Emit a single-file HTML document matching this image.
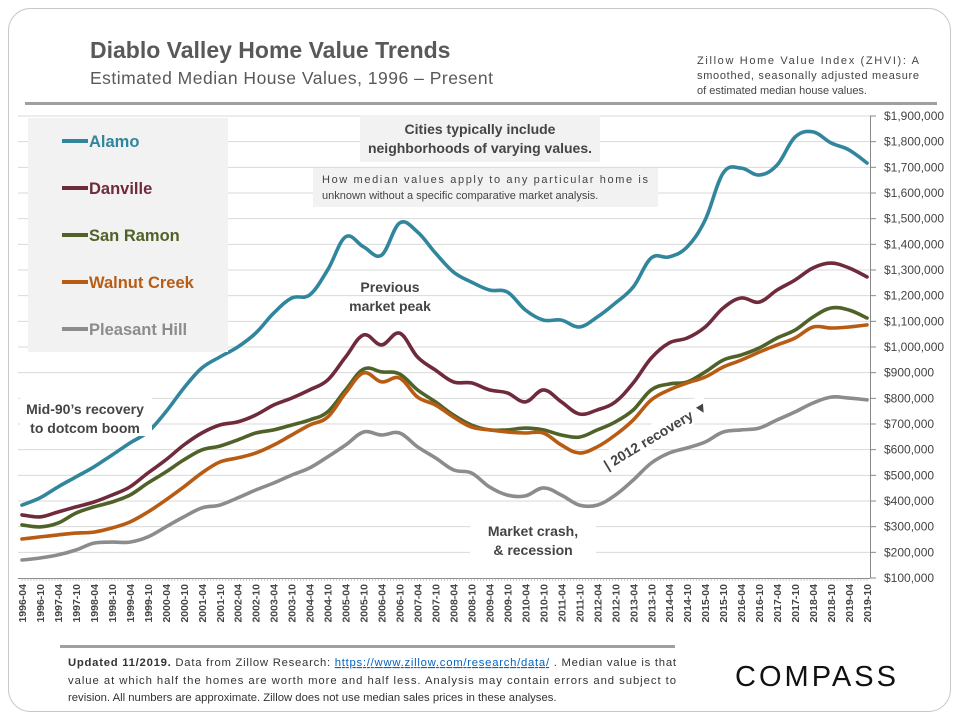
<!DOCTYPE html>
<html><head><meta charset="utf-8"><style>
body{margin:0;width:960px;height:720px;background:#fff;font-family:"Liberation Sans",sans-serif;overflow:hidden}
svg text{font-family:"Liberation Sans",sans-serif}
</style></head><body>
<svg id="c" width="960" height="720">
<rect x="8.5" y="8.5" width="942" height="703" rx="22" fill="#fff" stroke="#c8c8c8"/>
<text x="90" y="58" font-size="23" font-weight="bold" fill="#595959">Diablo Valley Home Value Trends</text>
<text x="90" y="84" font-size="17.5" fill="#595959" letter-spacing="0.5">Estimated Median House Values, 1996 – Present</text>
<g font-size="11" fill="#444">
<text x="697" y="64" textLength="222">Zillow Home Value Index (ZHVI): A</text>
<text x="697" y="79" textLength="222">smoothed, seasonally adjusted measure</text>
<text x="697" y="94">of estimated median house values.</text></g>
<rect x="25" y="102" width="912" height="3" fill="#a0a0a0"/>
<g id="grid"></g>
<g id="series"></g>
<rect x="28" y="118" width="200" height="234" fill="#f2f2f2"/>
<g id="legend"></g>
<rect x="360" y="115" width="240" height="47" fill="#f2f2f2"/>
<g font-size="14" font-weight="bold" fill="#444" text-anchor="middle">
<text x="480" y="134">Cities typically include</text><text x="480" y="153">neighborhoods of varying values.</text></g>
<rect x="313" y="168" width="345" height="39" fill="#f2f2f2"/>
<g font-size="11" fill="#444">
<text x="322" y="183" textLength="326">How median values apply to any particular home is</text>
<text x="322" y="199">unknown without a specific comparative market analysis.</text></g>
<g font-size="14" font-weight="bold" fill="#444" text-anchor="middle">
<text x="390" y="292"><tspan x="390">Previous</tspan><tspan x="390" dy="19">market peak</tspan></text>
<rect x="20" y="396" width="132" height="40" fill="#fff"/>
<text x="85" y="414"><tspan x="85">Mid-90’s recovery</tspan><tspan x="85" dy="19">to dotcom boom</tspan></text>
<rect x="470" y="518" width="126" height="42" fill="#fff"/>
<text x="533" y="536"><tspan x="533">Market crash,</tspan><tspan x="533" dy="19">&amp; recession</tspan></text>
</g>
<g transform="translate(657,437) rotate(-31)">
<rect x="-58" y="-14" width="118" height="22" fill="#fff"/>
<text x="0" y="3" font-size="14" font-weight="bold" fill="#444" text-anchor="middle">| 2012 recovery ▼</text></g>
<g id="yaxis"></g>
<g id="xaxis"></g>
<rect x="60" y="645" width="615" height="3" fill="#a0a0a0"/>
<g font-size="11.3" fill="#333">
<text x="68" y="666" textLength="608"><tspan font-weight="bold">Updated 11/2019.</tspan> Data from Zillow Research: <tspan fill="#0563c1" text-decoration="underline">https://www.zillow.com/research/data/</tspan> . Median value is that</text>
<text x="68" y="684" textLength="608">value at which half the homes are worth more and half less. Analysis may contain errors and subject to</text>
<text x="68" y="701">revision. All numbers are approximate. Zillow does not use median sales prices in these analyses.</text></g>
<text x="817" y="686" font-size="29" fill="#111" text-anchor="middle" letter-spacing="3">COMPASS</text>
</svg>
<script>
const periods=["1996-04","1996-10","1997-04","1997-10","1998-04","1998-10","1999-04","1999-10","2000-04","2000-10","2001-04","2001-10","2002-04","2002-10","2003-04","2003-10","2004-04","2004-10","2005-04","2005-10","2006-04","2006-10","2007-04","2007-10","2008-04","2008-10","2009-04","2009-10","2010-04","2010-10","2011-04","2011-10","2012-04","2012-10","2013-04","2013-10","2014-04","2014-10","2015-04","2015-10","2016-04","2016-10","2017-04","2017-10","2018-04","2018-10","2019-04","2019-10"];
const alamo=[384,412,455,494,533,579,626,669,747,840,918,961,1000,1054,1132,1191,1203,1300,1429,1390,1358,1483,1448,1366,1292,1253,1222,1214,1144,1105,1105,1078,1117,1171,1234,1347,1351,1390,1495,1678,1697,1670,1709,1818,1838,1795,1768,1717];
const danville=[346,338,357,377,396,423,455,509,560,618,665,696,708,735,774,801,833,871,961,1047,1008,1054,961,910,864,860,833,821,786,833,786,739,755,786,860,957,1016,1035,1078,1152,1191,1175,1222,1261,1308,1327,1308,1273];
const sanRamon=[307,299,314,353,377,396,423,470,513,560,599,614,638,665,677,696,716,747,833,914,903,895,833,786,735,696,677,677,684,677,657,649,677,708,755,833,856,864,903,949,969,996,1035,1066,1117,1152,1144,1113];
const walnutCreek=[252,260,268,275,279,295,318,357,404,455,509,552,568,587,618,657,696,727,821,899,864,879,805,774,727,688,677,669,665,665,618,587,611,657,716,794,833,860,883,922,949,980,1008,1035,1078,1074,1078,1086];
const pleasantHill=[170,178,190,209,236,240,240,260,299,338,373,384,412,443,470,501,529,572,618,669,657,665,611,568,521,509,455,423,420,451,423,384,384,423,482,548,587,607,630,669,677,684,716,747,782,805,801,794];
const yTicks=[100,200,300,400,500,600,700,800,900,1000,1100,1200,1300,1400,1500,1600,1700,1800,1900];
const seriesNames=["Alamo","Danville","San Ramon","Walnut Creek","Pleasant Hill"];
const seriesColors=["#31859c","#6f2b3b","#4f6228","#b85c14","#8c8c8c"];
const seriesData=[alamo,danville,sanRamon,walnutCreek,pleasantHill];
const NS="http://www.w3.org/2000/svg";
const X0=22,X1=867,Y0=578,Y1=116,VMIN=100,VMAX=1900;
function xs(i){return X0+(X1-X0)*i/(periods.length-1);}
function ys(v){return Y0-(v-VMIN)/(VMAX-VMIN)*(Y0-Y1);}
function mk(t,a,p){const e=document.createElementNS(NS,t);for(const k in a)e.setAttribute(k,a[k]);p.appendChild(e);return e;}
function smooth(P){let d='M'+P[0][0].toFixed(1)+','+P[0][1].toFixed(1);const s=0.18;
 for(let i=0;i<P.length-1;i++){const p0=P[i-1]||P[i],p1=P[i],p2=P[i+1],p3=P[i+2]||p2;
  const c1=[p1[0]+(p2[0]-p0[0])*s,p1[1]+(p2[1]-p0[1])*s],c2=[p2[0]-(p3[0]-p1[0])*s,p2[1]-(p3[1]-p1[1])*s];
  d+=`C${c1[0].toFixed(1)},${c1[1].toFixed(1)} ${c2[0].toFixed(1)},${c2[1].toFixed(1)} ${p2[0].toFixed(1)},${p2[1].toFixed(1)}`;}
 return d;}
const grid=document.getElementById('grid'),ya=document.getElementById('yaxis'),xa=document.getElementById('xaxis');
yTicks.forEach(v=>{
 if(v>VMIN){const g=mk('line',{x1:18,x2:870,y1:ys(v),y2:ys(v),stroke:'#d9d9d9','stroke-width':1},grid);
 
 }
 mk('line',{x1:870,x2:876,y1:ys(v),y2:ys(v),stroke:'#888'},ya);
 const t=mk('text',{x:884,y:ys(v)+4,'font-size':12,fill:'#444'},ya);
 t.textContent='$'+(v*1000).toLocaleString('en-US');
 
 
});
mk('line',{x1:870.5,x2:870.5,y1:Y1,y2:Y0,stroke:'#888'},ya);
mk('line',{x1:18,x2:870,y1:Y0+0.5,y2:Y0+0.5,stroke:'#888'},xa);
for(let m=0;m<=282;m++){const x=X0+(X1-X0)*m/282;mk('line',{x1:x,x2:x,y1:Y0,y2:Y0+3,stroke:'#aaa','stroke-width':0.6},xa);}
periods.forEach((p,i)=>{
 const t=mk('text',{x:0,y:0,'font-size':10.5,'font-weight':'bold',fill:'#444','text-anchor':'end',transform:`translate(${xs(i)+4},584) rotate(-90)`},xa);
 t.textContent=p;
 
 
});
const sg=document.getElementById('series'),lg=document.getElementById('legend');
seriesData.forEach((d,si)=>{
 const P=d.map((v,i)=>[xs(i),ys(v)]);
 const pl=mk('path',{d:smooth(P),fill:'none',stroke:seriesColors[si],'stroke-width':3.6,'stroke-linejoin':'round','stroke-linecap':'round'},sg);
 
 
 const ly=141+47*si;
 const li=mk('line',{x1:62,x2:88,y1:ly,y2:ly,stroke:seriesColors[si],'stroke-width':4},lg);
 
 
 const lt=mk('text',{x:89,y:ly+6,'font-size':16.5,'font-weight':'bold',fill:seriesColors[si]},lg);
 lt.textContent=seriesNames[si];
 
 
});
</script>
</body></html>
